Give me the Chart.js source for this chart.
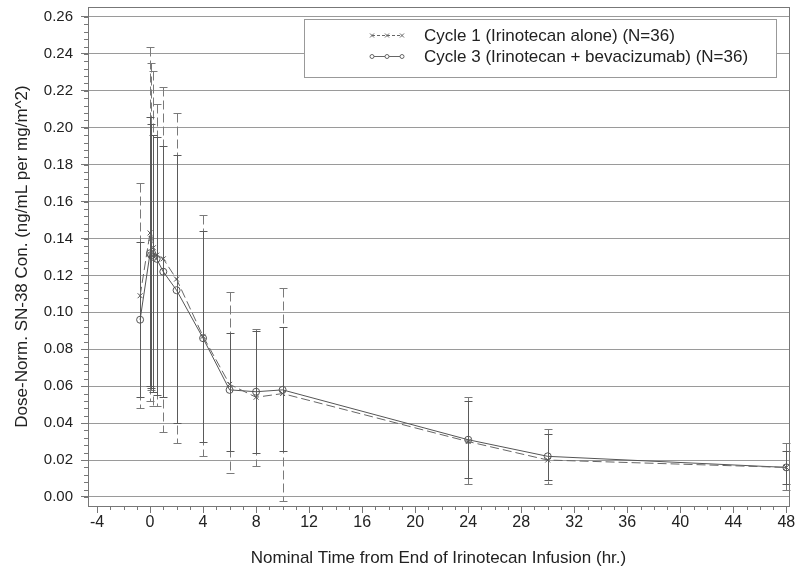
<!DOCTYPE html>
<html>
<head>
<meta charset="utf-8">
<script src="https://cdn.jsdelivr.net/npm/chart.js@4.4.1/dist/chart.umd.min.js"></script>
<style>
  html, body { margin: 0; padding: 0; background: #fff; }
</style>
</head>
<body>
<canvas id="myChart" width="800" height="577"></canvas>
<script>
  'use strict'

  // Nominal sampling times (hr from end of infusion)
  const times = [-0.75, 0, 0.083, 0.25, 0.5, 1, 2, 4, 6, 8, 10, 24, 30, 48]

  // Cycle 1 (irinotecan alone): mean and error bar ends
  const cycle1Mean = [0.109, 0.143, 0.140, 0.135, 0.131, 0.129, 0.118, 0.087, 0.061, 0.054, 0.056, 0.030, 0.020, 0.016]
  const cycle1High = [0.170, 0.244, 0.235, 0.231, 0.213, 0.222, 0.208, 0.153, 0.111, 0.091, 0.113, 0.054, 0.037, 0.029]
  const cycle1Low = [0.048, 0.052, 0.058, 0.049, 0.049, 0.035, 0.029, 0.022, 0.013, 0.017, -0.002, 0.007, 0.007, 0.004]

  // Cycle 3 (irinotecan + bevacizumab)
  const cycle3Mean = [0.096, 0.132, 0.131, 0.130, 0.129, 0.122, 0.112, 0.086, 0.058, 0.057, 0.058, 0.031, 0.022, 0.016]
  const cycle3High = [0.138, 0.206, 0.202, 0.196, 0.195, 0.190, 0.185, 0.144, 0.089, 0.090, 0.092, 0.052, 0.034, 0.025]
  const cycle3Low = [0.054, 0.060, 0.059, 0.057, 0.055, 0.054, 0.040, 0.030, 0.025, 0.024, 0.025, 0.010, 0.009, 0.007]

  const seriesLabels = ['Cycle 1 (Irinotecan alone) (N=36)', 'Cycle 3 (Irinotecan + bevacizumab) (N=36)']

  // Tick labels
  const xTicks = [-4, 0, 4, 8, 12, 16, 20, 24, 28, 32, 36, 40, 44, 48]
  const yTicks = [0, 0.02, 0.04, 0.06, 0.08, 0.10, 0.12, 0.14, 0.16, 0.18, 0.20, 0.22, 0.24, 0.26]

  const FONT = "'Liberation Sans', Arial, sans-serif"
  const TEXT = '#222'

  const errorBars = {
    id: 'errorBars',
    beforeDatasetsDraw(chart) {
      const { ctx, scales: { x, y } } = chart
      const sets = [
        { low: cycle1Low, high: cycle1High, dash: [9, 4], color: '#7a7a7a' },
        { low: cycle3Low, high: cycle3High, dash: [], color: '#5a5a5a' }
      ]
      ctx.save()
      ctx.lineWidth = 1
      sets.forEach(s => {
        ctx.strokeStyle = s.color
        times.forEach((t, i) => {
          const px = Math.round(x.getPixelForValue(t)) + 0.5
          const top = Math.round(y.getPixelForValue(s.high[i])) + 0.5
          const bot = Math.round(y.getPixelForValue(s.low[i])) + 0.5
          ctx.setLineDash(s.dash)
          ctx.beginPath()
          ctx.moveTo(px, top)
          ctx.lineTo(px, bot)
          ctx.stroke()
          ctx.setLineDash([])
          ctx.beginPath()
          ctx.moveTo(px - 4, top); ctx.lineTo(px + 4, top)
          ctx.moveTo(px - 4, bot); ctx.lineTo(px + 4, bot)
          ctx.stroke()
        })
      })
      ctx.restore()
    }
  }

  const frame = {
    id: 'frame',
    afterDraw(chart) {
      const { ctx, chartArea: a, scales: { x, y } } = chart
      ctx.save()
      ctx.strokeStyle = '#777'
      ctx.lineWidth = 1
      ctx.strokeRect(Math.round(a.left) + 0.5, Math.round(a.top) + 0.5, Math.round(a.right - a.left), Math.round(a.bottom - a.top))

      // minor ticks
      ctx.beginPath()
      for (let v = -4; v <= 48; v += 1) {
        const px = Math.round(x.getPixelForValue(v)) + 0.5
        ctx.moveTo(px, a.bottom)
        ctx.lineTo(px, a.bottom + 4)
      }
      for (let k = 0; k <= 65; k++) {
        const py = Math.round(y.getPixelForValue(k * 0.004)) + 0.5
        ctx.moveTo(a.left, py)
        ctx.lineTo(a.left - 4, py)
      }
      ctx.stroke()

      // legend box
      const bx = 304, by = 19, bw = 472, bh = 58
      ctx.fillStyle = '#fff'
      ctx.fillRect(bx, by, bw, bh)
      ctx.strokeStyle = '#999'
      ctx.strokeRect(bx + 0.5, by + 0.5, bw, bh)

      const rows = [35, 56]
      ctx.font = '17px ' + FONT
      ctx.textBaseline = 'middle'
      ctx.fillStyle = TEXT
      rows.forEach((ry, i) => {
        ctx.fillText(seriesLabels[i], 424, ry + 1)
        ctx.strokeStyle = '#666'
        ctx.setLineDash(i === 0 ? [3, 2] : [])
        ctx.beginPath()
        ctx.moveTo(372, ry + 0.5)
        ctx.lineTo(402, ry + 0.5)
        ctx.stroke()
        ctx.setLineDash([])
        ;[372, 387, 402].forEach(mx => {
          ctx.beginPath()
          if (i === 0) {
            ctx.moveTo(mx - 2, ry - 1.5); ctx.lineTo(mx + 2, ry + 2.5)
            ctx.moveTo(mx - 2, ry + 2.5); ctx.lineTo(mx + 2, ry - 1.5)
          } else {
            ctx.fillStyle = '#fff'
            ctx.arc(mx, ry + 0.5, 2, 0, Math.PI * 2)
            ctx.fill()
          }
          ctx.stroke()
        })
        ctx.fillStyle = TEXT
      })
      ctx.restore()
    }
  }

  const ctx = document.getElementById('myChart')
  // eslint-disable-next-line no-unused-vars
  const myChart = new Chart(ctx, {
    type: 'scatter',
    data: {
      datasets: [{
        label: seriesLabels[0],
        data: times.map((t, i) => ({ x: t, y: cycle1Mean[i] })),
        showLine: true,
        borderColor: '#666',
        borderWidth: 1,
        borderDash: [9, 4],
        pointStyle: 'crossRot',
        pointRadius: 3.5,
        pointBorderColor: '#555',
        pointBorderWidth: 1,
        pointBackgroundColor: 'transparent'
      }, {
        label: seriesLabels[1],
        data: times.map((t, i) => ({ x: t, y: cycle3Mean[i] })),
        showLine: true,
        borderColor: '#555',
        borderWidth: 1,
        pointStyle: 'circle',
        pointRadius: 3.5,
        pointBorderColor: '#555',
        pointBorderWidth: 1,
        pointBackgroundColor: 'transparent'
      }]
    },
    options: {
      responsive: false,
      animation: false,
      devicePixelRatio: 1,
      layout: { padding: { top: 7, right: 11, left: 0, bottom: 0 } },
      plugins: {
        legend: { display: false },
        tooltip: { enabled: false }
      },
      scales: {
        x: {
          type: 'linear',
          min: -4.68,
          max: 48.2,
          afterBuildTicks: s => { s.ticks = xTicks.map(v => ({ value: v })) },
          afterFit: s => { s.height = 71; s.paddingLeft = 0; s.paddingRight = 0 },
          border: { display: true, color: '#777' },
          grid: { display: true, drawOnChartArea: false, drawTicks: true, tickLength: 7, tickColor: '#777' },
          ticks: {
            autoSkip: false,
            maxRotation: 0,
            padding: 0,
            color: TEXT,
            font: { family: FONT, size: 16 },
            callback: v => String(v)
          },
          title: {
            display: true,
            text: 'Nominal Time from End of Irinotecan Infusion (hr.)',
            color: TEXT,
            font: { family: FONT, size: 17 },
            padding: { top: 0, bottom: 8 }
          }
        },
        y: {
          type: 'linear',
          min: -0.0049,
          max: 0.2654,
          afterBuildTicks: s => { s.ticks = yTicks.map(v => ({ value: v })) },
          afterFit: s => { s.width = 88; s.paddingTop = 0; s.paddingBottom = 0 },
          border: { display: true, color: '#777' },
          grid: { color: '#9a9a9a', lineWidth: 1, drawTicks: true, tickLength: 7, tickColor: '#777' },
          ticks: {
            padding: 8,
            color: TEXT,
            font: { family: FONT, size: 15 },
            callback: v => v.toFixed(2)
          },
          title: {
            display: true,
            text: 'Dose-Norm. SN-38 Con. (ng/mL per mg/m^2)',
            color: TEXT,
            font: { family: FONT, size: 17 },
            padding: { top: 12, bottom: 0 }
          }
        }
      }
    },
    plugins: [errorBars, frame]
  })
</script>
</body>
</html>
